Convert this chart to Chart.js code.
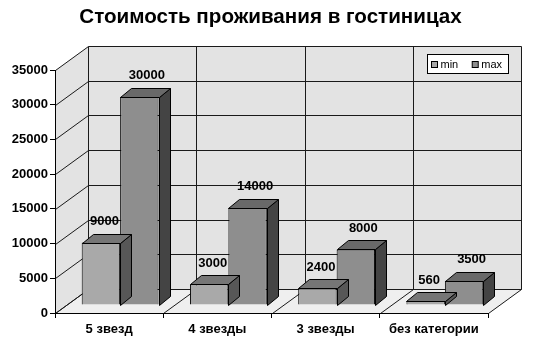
<!DOCTYPE html>
<html><head><meta charset="utf-8">
<script src="https://cdn.jsdelivr.net/npm/chart.js@4"></script>
<style>html,body{margin:0;padding:0;background:#fff}canvas{display:block}</style>
</head><body>
<canvas id="c" width="541" height="345"></canvas>
<script>
const categories = ['5 звезд', '4 звезды', '3 звезды', 'без категории'];
const seriesNames = ['min', 'max'];
const minValues = [9000, 3000, 2400, 560];
const maxValues = [30000, 14000, 8000, 3500];
const yTicks = [0, 5000, 10000, 15000, 20000, 25000, 30000, 35000];
const titleText = 'Стоимость проживания в гостиницах';

const FONT = "'Liberation Sans', Arial, sans-serif";
const WALL = {dx: 33, dy: -24};
const SHIFT = {dx: 11, dy: -8};
const DEPTH = {dx: 11, dy: -9};
const faces = [
  {front: '#a9a9a9', top: '#767676', side: '#575757'},
  {front: '#8e8e8e', top: '#696969', side: '#444444'}
];

function poly(ctx, pts, fill, stroke) {
  ctx.beginPath();
  ctx.moveTo(pts[0][0], pts[0][1]);
  for (let i = 1; i < pts.length; i++) ctx.lineTo(pts[i][0], pts[i][1]);
  ctx.closePath();
  if (fill) { ctx.fillStyle = fill; ctx.fill(); }
  if (stroke) { ctx.strokeStyle = stroke; ctx.lineWidth = 1; ctx.stroke(); }
}
function line(ctx, pts) {
  ctx.beginPath();
  ctx.moveTo(pts[0][0], pts[0][1]);
  for (let i = 1; i < pts.length; i++) ctx.lineTo(pts[i][0], pts[i][1]);
  ctx.stroke();
}

const plugin3d = {
  id: 'p3d',
  beforeDraw(chart) {
    const {ctx, chartArea: a, scales: {x, y}} = chart;
    const dx = WALL.dx, dy = WALL.dy;
    ctx.save();
    ctx.fillStyle = '#fff';
    ctx.fillRect(0, 0, chart.width, chart.height);
    const y0 = Math.round(y.getPixelForValue(y.min)) + 0.5;
    const yT = Math.round(y.getPixelForValue(y.max)) + 0.5;
    const L = Math.round(a.left) + 0.5, R = Math.round(a.right) + 0.5;
    poly(ctx, [[L, y0], [R, y0], [R + dx, y0 + dy], [L + dx, y0 + dy]], '#efefef');
    poly(ctx, [[L, y0], [L, yT], [L + dx, yT + dy], [L + dx, y0 + dy]], '#e3e3e3');
    poly(ctx, [[L + dx, y0 + dy], [L + dx, yT + dy], [R + dx, yT + dy], [R + dx, y0 + dy]], '#e3e3e3');
    ctx.strokeStyle = '#1a1a1a';
    ctx.lineWidth = 1;
    yTicks.forEach(v => {
      const py = Math.round(y.getPixelForValue(v)) + 0.5;
      line(ctx, [[L, py], [L + dx, py + dy], [R + dx, py + dy]]);
    });
    for (let i = 0; i <= categories.length; i++) {
      const xb = Math.round(x.getPixelForValue(i - 0.5)) + 0.5;
      line(ctx, [[xb, y0], [xb + dx, y0 + dy], [xb + dx, yT + dy]]);
    }
    // title, centred on the whole canvas
    ctx.font = 'bold 20.6px ' + FONT;
    ctx.fillStyle = '#000';
    ctx.textAlign = 'center';
    ctx.textBaseline = 'middle';
    ctx.fillText(titleText, chart.width / 2, 17);
    ctx.restore();
  },
  beforeDatasetsDraw(chart) {
    chart.ctx.save();
    chart.ctx.translate(SHIFT.dx, SHIFT.dy);
  },
  afterDatasetDraw(chart, args) {
    const ctx = chart.ctx;
    const meta = chart.getDatasetMeta(args.index);
    const f = faces[args.index];
    meta.data.forEach(el => {
      const p = el.getProps(['x', 'y', 'base', 'width'], true);
      const l = Math.round(p.x - p.width / 2) + 0.5, r = Math.round(p.x + p.width / 2) + 0.5;
      const t = Math.round(p.y) + 0.5, b = Math.round(p.base) + 0.5;
      poly(ctx, [[r, t], [r + DEPTH.dx, t + DEPTH.dy], [r + DEPTH.dx, b + DEPTH.dy], [r, b]], f.side, '#000');
      poly(ctx, [[l, t], [r, t], [r + DEPTH.dx, t + DEPTH.dy], [l + DEPTH.dx, t + DEPTH.dy]], f.top, '#000');
    });
  },
  afterDatasetsDraw(chart) {
    const ctx = chart.ctx;
    ctx.restore();
    ctx.save();
    ctx.font = 'bold 13px ' + FONT;
    ctx.fillStyle = '#000';
    ctx.textAlign = 'center';
    ctx.textBaseline = 'middle';
    chart.data.datasets.forEach((ds, di) => {
      chart.getDatasetMeta(di).data.forEach((el, i) => {
        const p = el.getProps(['x', 'y', 'width'], true);
        const lx = p.x + SHIFT.dx + DEPTH.dx / 2 - (di === 0 ? 2 : -2);
        const ly = p.y + SHIFT.dy + DEPTH.dy - 12;
        ctx.fillText(String(ds.data[i]), lx, ly);
      });
    });
    ctx.restore();
  },
  afterDraw(chart) {
    const {ctx, chartArea: a} = chart;
    ctx.save();
    const bx = Math.round(a.right) - 61 + 0.5, by = Math.round(a.top) - 16 + 0.5;
    const bw = 81, bh = 19;
    ctx.fillStyle = '#fff';
    ctx.fillRect(bx, by, bw, bh);
    ctx.strokeStyle = '#000';
    ctx.lineWidth = 1;
    ctx.strokeRect(bx, by, bw, bh);
    ctx.font = '11px ' + FONT;
    ctx.textBaseline = 'middle';
    ctx.textAlign = 'left';
    let cx = bx + 4;
    chart.data.datasets.forEach((ds, di) => {
      ctx.fillStyle = ds.backgroundColor;
      ctx.fillRect(cx, by + 7, 6, 6);
      ctx.strokeStyle = '#000';
      ctx.strokeRect(cx, by + 7, 6, 6);
      ctx.fillStyle = '#000';
      ctx.fillText(ds.label, cx + 9, by + bh / 2 + 0.5);
      cx += 9 + ctx.measureText(ds.label).width + 14;
    });
    ctx.restore();
  }
};

new Chart(document.getElementById('c'), {
  type: 'bar',
  data: {
    labels: categories,
    datasets: [
      {label: seriesNames[0], data: minValues, backgroundColor: faces[0].front, borderColor: '#000', borderWidth: 1},
      {label: seriesNames[1], data: maxValues, backgroundColor: faces[1].front, borderColor: '#000', borderWidth: 1}
    ]
  },
  options: {
    responsive: false,
    devicePixelRatio: 1,
    animation: false,
    categoryPercentage: 0.71,
    barPercentage: 1.0,
    layout: {padding: {top: 70, left: 0, right: 53, bottom: 0}},
    plugins: {
      legend: {display: false},
      tooltip: {enabled: false},
      title: {display: false}
    },
    scales: {
      x: {
        grid: {drawOnChartArea: false, drawTicks: true, tickLength: 5, color: '#000', offset: true},
        border: {display: true, color: '#000'},
        ticks: {color: '#000', font: {family: FONT, size: 13, weight: 'bold'}, padding: 4, maxRotation: 0},
        afterFit(s) { s.height = 32; }
      },
      y: {
        min: 0, max: 35000,
        afterBuildTicks(s) { s.ticks = yTicks.map(v => ({value: v})); },
        grid: {drawOnChartArea: false, drawTicks: true, tickLength: 5, color: '#000'},
        border: {display: true, color: '#000'},
        ticks: {color: '#000', font: {family: FONT, size: 13, weight: 'bold'}, padding: 2, callback: v => String(v)},
        afterFit(s) { s.width = 55; }
      }
    }
  },
  plugins: [plugin3d]
});
</script>
</body></html>
